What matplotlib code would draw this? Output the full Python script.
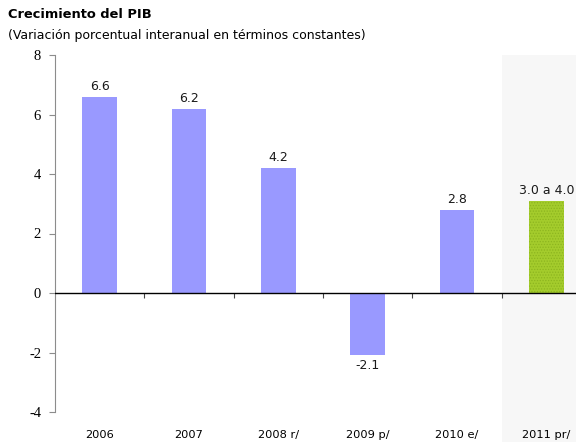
import matplotlib

matplotlib.use("Agg")
import matplotlib.pyplot as plt

categories = ["2006", "2007", "2008 r/", "2009 p/", "2010 e/", "2011 pr/"]
growth = [6.6, 6.2, 4.2, -2.1, 2.8, 3.1]
value_labels = ["6.6", "6.2", "4.2", "-2.1", "2.8", "3.0 a 4.0"]
y_ticks = [-4, -2, 0, 2, 4, 6, 8]

_BAR = "#9999FF"
_FORECAST = "#A4CC2C"
_FORECAST_DOTS = "#8DB51F"
_SHADE = "#F7F7F7"
_AXIS = "#8C8C8C"

plt.rcParams["hatch.linewidth"] = 0.6
plt.rcParams["font.serif"] = ["Liberation Serif", "DejaVu Serif"]

fig = plt.figure(figsize=(5.76, 4.42), dpi=100)
ax = fig.add_axes([55 / 576, 30 / 442, 536 / 576, 357 / 442])

x = list(range(len(categories)))
ymin, ymax = -4, 8
ax.set_xlim(-0.5, len(categories) - 0.5)
ax.set_ylim(ymin, ymax)

# forecast year sits on a shaded band that runs down past the axis labels
ax.axvspan(x[-1] - 0.5, x[-1] + 0.5, ymin=-0.1, ymax=1.0, color=_SHADE,
           zorder=0, linewidth=0, clip_on=False)

ax.bar(x[:-1], growth[:-1], width=0.39, color=_BAR, linewidth=0, zorder=2)
ax.bar(
    x[-1],
    growth[-1],
    width=0.39,
    color=_FORECAST,
    edgecolor=_FORECAST_DOTS,
    hatch="......",
    linewidth=0,
    zorder=2,
)

for xi, val, lab in zip(x, growth, value_labels):
    off = 0.12 if val >= 0 else -0.12
    ax.text(
        xi,
        val + off,
        lab,
        ha="center",
        va="bottom" if val >= 0 else "top",
        fontsize=9,
        family="DejaVu Sans",
        color="#1a1a1a",
    )

ax.axhline(0, color="black", linewidth=1.0, zorder=3)

# ticks on the zero line between categories
sec = ax.secondary_xaxis((0 - ymin) / (ymax - ymin))
sec.set_xticks([xi + 0.5 for xi in x[:-1]])
sec.tick_params(length=3.5, width=0.8, color="#444444", labelbottom=False, direction="out")
sec.spines["bottom"].set_visible(False)

for side in ("top", "right", "bottom"):
    ax.spines[side].set_visible(False)
ax.spines["left"].set_color(_AXIS)

ax.set_yticks(y_ticks)
ax.set_yticklabels([str(t) for t in y_ticks])
ax.tick_params(axis="y", length=4, width=0.8, color=_AXIS, pad=6)

ax.set_xticks(x)
ax.set_xticklabels(categories, va="baseline")
ax.tick_params(axis="x", length=0, pad=19)

for lab in ax.get_yticklabels():
    lab.set_family("serif")
    lab.set_fontsize(10.5)
for lab in ax.get_xticklabels():
    lab.set_family("DejaVu Sans")
    lab.set_fontsize(8.2)

fig.text(8 / 576, 1 - 15 / 442, "Crecimiento del PIB", fontsize=9.4, fontweight="bold",
         family="DejaVu Sans", va="center", ha="left")
fig.text(8 / 576, 1 - 36 / 442, "(Variación porcentual interanual en términos constantes)",
         fontsize=9, family="DejaVu Sans", va="center", ha="left")

fig.savefig("out.png", dpi=100, facecolor="white")
